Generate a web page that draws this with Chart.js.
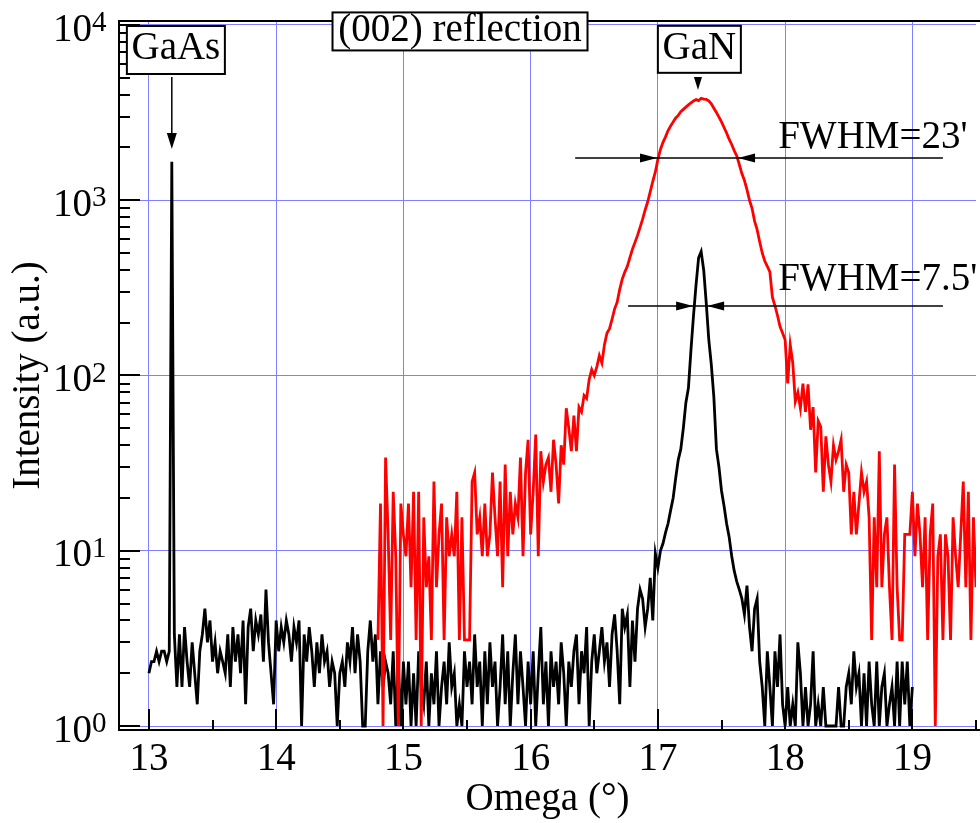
<!DOCTYPE html>
<html>
<head>
<meta charset="utf-8">
<script src="https://cdn.jsdelivr.net/npm/chart.js@4.4.1/dist/chart.umd.min.js"></script>
<style>
  html, body { margin: 0; padding: 0; background: #fff; }
  #wrap { width: 980px; height: 823px; }
</style>
</head>
<body>
<div id="wrap"><canvas id="rocking"></canvas></div>
<script>
// omega scans, sampled every 0.02 deg
const omegaStep = 0.02;
const blackStart = 13.0;   // narrow scan (GaAs + GaN), 13.00 .. 19.00
const redStart = 14.8;     // broad GaN scan, 14.80 .. 19.50

const blackCounts = [
  2.0, 2.33, 2.33, 2.67, 2.33, 2.67, 2.67, 2.33, 2.67, 1660,
  3.33, 1.67, 3.33, 1.67, 3.67, 2.33, 1.67, 3.0, 2.0, 1.33,
  2.67, 3.33, 4.67, 3.0, 4.0, 2.33, 3.0, 2.0, 2.67, 2.33,
  2.0, 3.33, 1.67, 3.67, 2.33, 3.33, 2.0, 4.0, 1.33, 3.67,
  4.67, 2.67, 4.0, 3.33, 4.33, 2.33, 6.0, 3.0, 2.0, 1.33,
  4.0, 2.67, 3.67, 3.0, 4.0, 3.33, 2.33, 3.67, 3.0, 4.0,
  1.0, 3.33, 2.33, 3.67, 2.67, 1.67, 3.0, 2.0, 3.33, 2.33,
  2.67, 1.67, 2.33, 2.0, 1.0, 2.0, 2.33, 1.67, 3.0, 2.33,
  3.67, 2.0, 3.33, 2.33, 1.0, 1.0, 2.67, 4.0, 2.33, 3.33,
  1.33, 2.67, 1.67, 2.33, 2.0, 1.33, 2.67, 1.0, 2.33, 1.0,
  2.33, 1.33, 2.33, 1.0, 2.0, 1.0, 2.67, 1.67, 1.33, 2.33,
  1.0, 2.0, 1.33, 2.67, 1.0, 1.67, 2.33, 1.33, 3.0, 1.67,
  2.0, 1.0, 1.33, 1.0, 2.67, 1.67, 2.33, 1.33, 3.33, 1.67,
  2.33, 1.0, 2.67, 1.33, 3.0, 1.67, 2.33, 1.0, 1.67, 3.33,
  1.33, 2.67, 1.0, 2.0, 3.33, 1.33, 2.67, 1.67, 1.0, 2.33,
  1.33, 2.67, 1.0, 2.0, 3.67, 1.33, 2.33, 1.0, 2.67, 1.67,
  2.33, 1.33, 3.0, 2.0, 1.0, 2.33, 1.67, 2.67, 3.33, 1.33,
  2.67, 2.0, 3.67, 1.0, 2.33, 3.33, 2.0, 2.67, 3.67, 2.33,
  3.0, 1.67, 3.33, 4.33, 2.67, 1.33, 4.67, 3.67, 4.33, 1.67,
  4.0, 2.33, 4.67, 6.0, 5.33, 3.67, 4.67, 7.0, 4.0, 9.67,
  8.0, 10.0, 11.0, 12.7, 14.3, 17.0, 20.0, 26.0, 33.0, 38.0,
  50, 70, 85, 140, 220, 330, 470, 510, 400, 260,
  160, 115, 75, 38, 30, 22, 18, 14.3, 12.0, 9.33,
  7.67, 6.67, 6.0, 5.33, 4.33, 6.33, 3.67, 2.67, 4.67, 5.33,
  2.33, 1.67, 1.0, 2.67, 1.67, 1.0, 2.67, 1.67, 3.33, 1.33,
  1.0, 1.67, 1.0, 1.33, 1.0, 3.0, 2.0, 1.0, 1.67, 1.0,
  1.33, 2.67, 1.0, 1.33, 1.0, 1.67, 1.0, 1.0, 1.0, 1.0,
  1.0, 1.67, 1.0, 1.0, 1.67, 2.0, 1.33, 2.67, 1.67, 2.0,
  1.0, 2.0, 1.0, 2.33, 1.33, 1.0, 2.33, 1.0, 1.67, 2.0,
  1.0, 1.33, 1.67, 1.0, 2.33, 1.0, 2.33, 1.33, 2.33, 1.0,
  1.67
];

const redCounts = [
  3.1, 18.6, 1, 34, 12.4, 3.1, 21.7, 9.3, 1, 18.6,
  12.4, 9.3, 18.6, 6.2, 21.7, 3.1, 21.7, 1, 15.5, 6.2,
  9.3, 3.1, 24.8, 6.2, 12.4, 18.6, 3.1, 15.5, 9.3, 12.4,
  9.3, 21.7, 3.1, 15.5, 3.1, 3.1, 3.1, 24.8, 27.9, 12.4,
  15.5, 9.3, 18.6, 9.3, 12.4, 27.9, 15.5, 9.3, 24.8, 6.2,
  31, 9.3, 21.7, 12.4, 18.6, 15.5, 34, 9.3, 27.9, 43,
  12.4, 21.7, 46, 9.3, 37, 24.8, 31, 34, 21.7, 43,
  31, 18.6, 40, 31, 65, 50, 37, 59, 37, 66,
  62, 77, 74, 95, 108, 100, 112, 130, 118, 150,
  175, 185, 210, 240, 262, 310, 355, 390, 420, 470,
  525, 575, 630, 700, 780, 880, 980, 1120, 1280, 1450,
  1710, 1950, 2140, 2300, 2500, 2650, 2800, 2950, 3050, 3200,
  3300, 3400, 3500, 3600, 3690, 3750, 3700, 3820, 3780, 3760,
  3690, 3550, 3350, 3170, 2980, 2800, 2600, 2420, 2230, 2080,
  1920, 1790, 1600, 1420, 1300, 1150, 1000, 900, 760, 680,
  580, 500, 450, 420, 390, 280, 250, 220, 190, 175,
  160, 90, 150, 118, 71, 80, 65, 90, 62, 89,
  49, 66, 28, 55, 51, 21.7, 45, 31, 24.8, 40,
  33, 37, 43, 21.7, 31, 27.9, 12.4, 21.7, 12.4, 18.6,
  28, 21.7, 24.8, 15.5, 3.1, 15.5, 6.2, 37, 6.2, 12.4,
  15.5, 6.2, 3.1, 31, 6.2, 3.1, 3.1, 12.4, 12.4, 12.4,
  21.7, 9.3, 18.6, 12.4, 6.2, 15.5, 3.1, 12.4, 18.6, 1,
  9.3, 12.4, 3.1, 12.4, 9.3, 3.1, 15.5, 9.3, 6.2, 12.4,
  24.8, 6.2, 21.7, 3.1, 15.5, 6.2
];

const xTicks = [13, 14, 15, 16, 17, 18, 19];
const yTicks = [1, 10, 100, 1000, 10000];
const yTickLabels = ['10^0', '10^1', '10^2', '10^3', '10^4'];

const FONT = 'Liberation Serif';
const GRID = '#7f7fff';

function toPoints(start, ys) {
  return ys.map((y, i) => ({ x: +(start + i * omegaStep).toFixed(2), y: y }));
}

// annotation anchors, in data units (omega, intensity)
const labelBoxes = [
  { text: 'GaAs', x: 13.212, y: 7200, w: 98, h: 48 },
  { text: '(002) reflection', x: 15.445, y: 9190, w: 255, h: 38 },
  { text: 'GaN', x: 17.326, y: 7265, w: 83, h: 47 }
];
const fwhmMarks = [
  { text: "FWHM=23'", y: 1742, from: 16.35, to: 19.24, left: 16.993, right: 17.63, textX: 17.945, textY: 1987 },
  { text: "FWHM=7.5'", y: 249, from: 16.766, to: 19.24, left: 17.277, right: 17.387, textX: 17.945, textY: 308 }
];

function line(ctx, x1, y1, x2, y2) {
  ctx.beginPath(); ctx.moveTo(x1, y1); ctx.lineTo(x2, y2); ctx.stroke();
}
function head(ctx, tx, ty, dx, dy, len, half) {
  // filled arrowhead with its tip at (tx, ty) pointing along (dx, dy)
  const bx = tx - dx * len, by = ty - dy * len;
  ctx.beginPath();
  ctx.moveTo(tx, ty);
  ctx.lineTo(bx - dy * half, by + dx * half);
  ctx.lineTo(bx + dy * half, by - dx * half);
  ctx.closePath();
  ctx.fill();
}

const decor = {
  id: 'decor',
  afterDraw(chart) {
    const { ctx, chartArea: a, scales: { x, y } } = chart;
    ctx.save();
    ctx.strokeStyle = '#000';
    ctx.fillStyle = '#000';
    ctx.lineWidth = 2;

    // frame: top and bottom run to the page edge
    line(ctx, a.left, a.top, chart.width, a.top);
    line(ctx, a.left, a.bottom, chart.width, a.bottom);

    // inward ticks on the log axis
    for (let d = 0; d < 5; d++) {
      for (let m = 1; m < 10; m++) {
        const v = m * Math.pow(10, d);
        if (v > y.max) break;
        const py = Math.round(y.getPixelForValue(v));
        line(ctx, a.left, py, a.left + (m === 1 ? 21 : 11), py);
      }
    }
    // inward ticks on omega
    for (let k = 26; k <= 39; k++) {
      const v = k / 2;
      const px = Math.round(x.getPixelForValue(v));
      line(ctx, px, a.bottom, px, a.bottom - (k % 2 === 0 ? 21 : 10));
    }

    // power-of-ten labels with raised exponents
    ctx.textBaseline = 'alphabetic';
    yTicks.forEach((v, i) => {
      const [base, exp] = yTickLabels[i].split('^');
      const py = y.getPixelForValue(v);
      ctx.font = '39px "' + FONT + '"';
      ctx.textAlign = 'right';
      ctx.fillText(base, 92, py + 15.5);
      ctx.font = '29px "' + FONT + '"';
      ctx.textAlign = 'left';
      ctx.fillText(exp, 92, py + 6);
    });

    ctx.font = '39px "' + FONT + '"';
    ctx.textAlign = 'center';
    ctx.textBaseline = 'middle';

    // GaAs arrow
    const gx = x.getPixelForValue(13.18);
    const gTop = y.getPixelForValue(5050), gTip = y.getPixelForValue(1960);
    ctx.lineWidth = 1.5;
    line(ctx, gx, gTop, gx, gTip - 10);
    head(ctx, gx, gTip, 0, 1, 16, 5);
    // GaN marker
    const nx = x.getPixelForValue(17.315);
    head(ctx, nx, y.getPixelForValue(4257), 0, 1, 13, 4);

    // labelled boxes
    labelBoxes.forEach(b => {
      const cx = x.getPixelForValue(b.x), cy = y.getPixelForValue(b.y);
      ctx.fillStyle = '#fff';
      ctx.fillRect(cx - b.w / 2, cy - b.h / 2, b.w, b.h);
      ctx.strokeStyle = '#000';
      ctx.lineWidth = 2;
      ctx.strokeRect(cx - b.w / 2, cy - b.h / 2, b.w, b.h);
      ctx.fillStyle = '#000';
      ctx.fillText(b.text, cx, cy - 1);
    });

    // FWHM arrows
    ctx.textAlign = 'left';
    ctx.textBaseline = 'alphabetic';
    fwhmMarks.forEach(f => {
      const py = y.getPixelForValue(f.y);
      ctx.lineWidth = 1.5;
      line(ctx, x.getPixelForValue(f.from), py, x.getPixelForValue(f.to), py);
      head(ctx, x.getPixelForValue(f.left), py, 1, 0, 17, 4.5);
      head(ctx, x.getPixelForValue(f.right), py, -1, 0, 17, 4.5);
      ctx.fillText(f.text, x.getPixelForValue(f.textX), y.getPixelForValue(f.textY));
    });
    ctx.restore();
  }
};

new Chart(document.getElementById('rocking'), {
  type: 'line',
  data: {
    datasets: [
      {
        label: 'broad scan',
        data: toPoints(redStart, redCounts),
        borderColor: '#ff0000',
        borderWidth: 2.8,
        pointRadius: 0,
        tension: 0
      },
      {
        label: 'narrow scan',
        data: toPoints(blackStart, blackCounts),
        borderColor: '#000000',
        borderWidth: 2.8,
        pointRadius: 0,
        tension: 0
      }
    ]
  },
  options: {
    responsive: true,
    maintainAspectRatio: false,
    animation: false,
    layout: { autoPadding: false, padding: { top: 21, right: 4, left: 0, bottom: 0 } },
    plugins: {
      legend: { display: false },
      tooltip: { enabled: false }
    },
    scales: {
      x: {
        type: 'linear',
        min: 12.765,
        max: 19.5,
        afterBuildTicks: s => { s.ticks = xTicks.map(v => ({ value: v })); },
        afterFit: s => { s.height = 93; },
        ticks: {
          color: '#000',
          padding: 6,
          maxRotation: 0,
          font: { family: FONT, size: 39 }
        },
        grid: { color: GRID, lineWidth: 1, drawTicks: false },
        border: { display: true, color: '#000', width: 2 },
        title: {
          display: true,
          text: 'Omega (°)',
          color: '#000',
          padding: { top: 0, bottom: 0 },
          font: { family: FONT, size: 39 }
        }
      },
      y: {
        type: 'logarithmic',
        min: Math.pow(10, -4 / 175.25),
        max: Math.pow(10, 4 + 4 / 175.25),
        afterBuildTicks: s => { s.ticks = yTicks.map(v => ({ value: v })); },
        afterFit: s => { s.width = 119; },
        ticks: { display: false },
        grid: { color: GRID, lineWidth: 1, drawTicks: false },
        border: { display: true, color: '#000', width: 2 },
        title: {
          display: true,
          text: 'Intensity (a.u.)',
          color: '#000',
          padding: { top: 5, bottom: 0 },
          font: { family: FONT, size: 39 }
        }
      }
    }
  },
  plugins: [decor]
});
</script>
</body>
</html>
